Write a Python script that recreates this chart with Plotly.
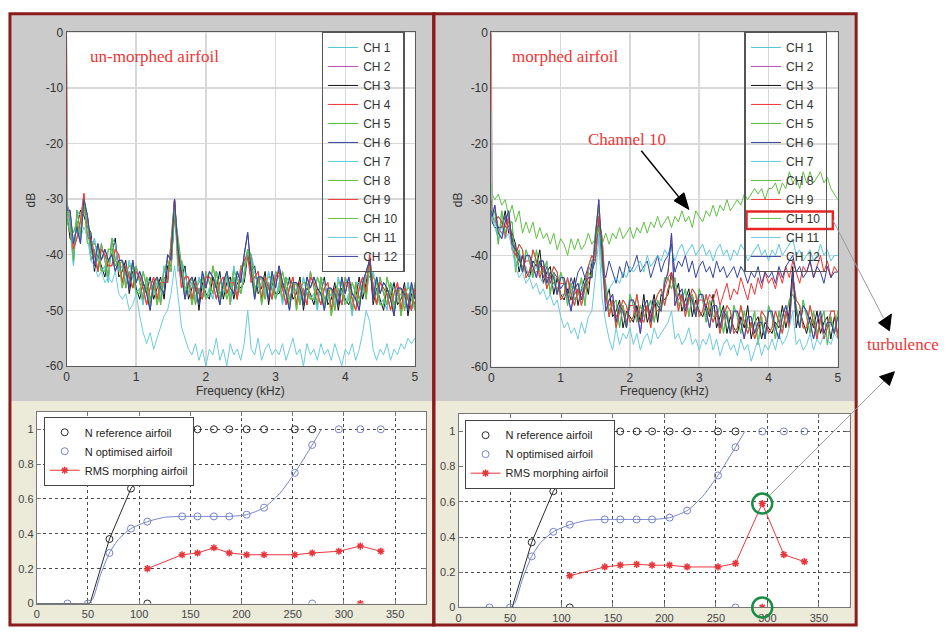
import plotly.graph_objects as go

W, H = 949, 634

# ---------------- data ----------------
FREQ_KHZ = [0.0, 0.01] + [round(0.05 * k, 2) for k in range(1, 101)]
CHANNELS = ["CH 1", "CH 2", "CH 3", "CH 4", "CH 5", "CH 6",
            "CH 7", "CH 8", "CH 9", "CH 10", "CH 11", "CH 12"]
CH_COLORS = ["#4fc3d6", "#b54db5", "#111111", "#f03030", "#56b83a", "#34459c",
             "#5cc9da", "#5bbd3c", "#f23a3a", "#62be45", "#6ccbd9", "#3848a0"]

# un-morphed airfoil spectra (dB)
UNM_A = [-31, -32,
         -34, -41, -32, -36, -31, -33, -41, -39, -43, -38,
         -41, -44, -37, -41, -42, -41, -46, -43, -46, -42,
         -45, -48, -44, -48, -46, -44, -49, -44, -45, -38,
         -30, -42, -41, -46, -46, -44, -49, -46, -48, -43,
         -45, -47, -43, -47, -46, -43, -49, -44, -48, -42,
         -42, -39, -40, -46, -45, -44, -48, -45, -48, -43,
         -44, -48, -44, -48, -46, -45, -49, -46, -49, -43,
         -46, -49, -44, -48, -47, -46, -50, -46, -49, -44,
         -46, -50, -45, -48, -46, -43, -44, -45, -49, -44,
         -47, -49, -45, -49, -47, -46, -50, -47, -50, -45]
UNM_B = [-30, -33,
         -37, -38, -35, -32, -33, -35, -36, -43, -40, -42,
         -44, -41, -40, -37, -44, -43, -41, -47, -43, -46,
         -48, -45, -47, -44, -48, -46, -44, -48, -42, -42,
         -33, -39, -44, -42, -48, -46, -44, -50, -45, -47,
         -48, -44, -46, -43, -48, -45, -44, -48, -45, -46,
         -45, -40, -43, -42, -47, -46, -43, -49, -45, -47,
         -47, -45, -47, -44, -48, -47, -44, -50, -46, -47,
         -49, -46, -47, -44, -49, -48, -45, -50, -46, -48,
         -49, -47, -48, -44, -48, -45, -41, -49, -46, -48,
         -50, -46, -48, -45, -49, -48, -45, -51, -47, -49]
UNM_C = [0, -31,
         -33, -39, -37, -34, -29, -37, -37, -40, -43, -39,
         -40, -42, -42, -39, -40, -45, -42, -44, -46, -43,
         -44, -46, -49, -46, -44, -48, -45, -45, -45, -39,
         -30, -40, -46, -44, -44, -48, -45, -47, -48, -44,
         -44, -45, -48, -45, -44, -47, -45, -45, -48, -43,
         -41, -40, -45, -44, -43, -48, -44, -46, -48, -44,
         -43, -46, -49, -46, -44, -49, -45, -47, -49, -44,
         -45, -47, -49, -46, -45, -50, -46, -47, -49, -45,
         -45, -48, -50, -46, -44, -47, -40, -46, -49, -45,
         -46, -47, -50, -47, -45, -50, -46, -48, -50, -46]
UNM_D = [-31, -34,
         -36, -36, -34, -37, -30, -38, -38, -38, -39, -43,
         -43, -39, -39, -42, -41, -46, -43, -42, -42, -47,
         -47, -43, -46, -49, -45, -49, -46, -43, -41, -43,
         -32, -37, -43, -47, -45, -49, -46, -45, -44, -48,
         -47, -42, -45, -48, -45, -48, -46, -43, -44, -47,
         -44, -39, -42, -47, -44, -49, -45, -44, -44, -48,
         -46, -43, -46, -49, -45, -50, -46, -45, -45, -48,
         -48, -44, -46, -49, -46, -51, -47, -45, -45, -49,
         -48, -45, -47, -49, -45, -48, -42, -44, -45, -49,
         -49, -44, -47, -50, -46, -51, -47, -46, -46, -50]
UNM_E = [-32, -33,
         -35, -42, -32, -33, -32, -34, -40, -37, -41, -43,
         -42, -45, -37, -38, -43, -42, -45, -41, -44, -47,
         -46, -49, -44, -45, -47, -45, -48, -42, -43, -43,
         -31, -43, -41, -43, -47, -45, -48, -44, -46, -48,
         -46, -48, -43, -44, -47, -44, -48, -42, -46, -47,
         -43, -40, -40, -43, -46, -45, -47, -43, -46, -48,
         -45, -49, -44, -45, -47, -46, -48, -44, -47, -48,
         -47, -50, -44, -45, -48, -47, -49, -44, -47, -49,
         -47, -51, -45, -45, -47, -44, -43, -43, -47, -49,
         -48, -50, -45, -46, -48, -47, -49, -45, -48, -50]
UNM_F = [-30, -32,
         -32, -38, -35, -38, -30, -33, -38, -42, -38, -41,
         -39, -41, -40, -43, -41, -41, -43, -46, -41, -45,
         -43, -45, -47, -50, -45, -44, -46, -47, -40, -41,
         -30, -39, -44, -48, -45, -44, -46, -49, -43, -46,
         -43, -44, -46, -49, -45, -43, -46, -47, -43, -45,
         -40, -36, -43, -48, -44, -44, -45, -48, -43, -46,
         -42, -45, -47, -50, -45, -45, -46, -49, -44, -46,
         -44, -46, -47, -50, -46, -46, -47, -49, -44, -47,
         -44, -47, -48, -50, -45, -43, -41, -48, -44, -47,
         -45, -46, -48, -51, -46, -46, -47, -50, -45, -48]
UNM_LOW = [-14, -31,
           -33, -38, -35, -37, -35, -37, -41, -42, -44, -43,
           -45, -44, -45, -43, -47, -48, -47, -50, -49, -47,
           -51, -54, -56, -54, -57, -55, -53, -51, -50, -47,
           -42, -47, -53, -55, -57, -58, -56, -59, -57, -60,
           -57, -58, -55, -59, -57, -60, -56, -58, -57, -59,
           -56, -50, -57, -58, -55, -59, -57, -56, -58, -57,
           -58, -56, -59, -57, -55, -58, -57, -60, -56, -58,
           -57, -59, -56, -58, -57, -59, -56, -58, -60, -57,
           -58, -56, -59, -57, -54, -50, -52, -57, -59, -57,
           -58, -56, -59, -57, -58, -56, -57, -55, -56, -55]

# morphed airfoil spectra (dB)
MOR_A = [-31, -33,
         -32, -38, -32, -36, -34, -34, -43, -39, -43, -39,
         -41, -44, -39, -43, -43, -41, -47, -43, -47, -43,
         -45, -49, -45, -48, -47, -44, -49, -43, -44, -36,
         -31, -42, -45, -50, -49, -48, -53, -49, -53, -47,
         -49, -52, -49, -51, -50, -48, -52, -48, -50, -44,
         -44, -46, -44, -49, -48, -46, -51, -47, -51, -46,
         -48, -52, -48, -51, -51, -49, -54, -50, -54, -49,
         -51, -54, -50, -53, -53, -50, -56, -51, -55, -49,
         -51, -55, -50, -53, -51, -48, -47, -49, -53, -48,
         -51, -54, -50, -54, -52, -50, -56, -51, -54, -50]
MOR_B = [-30, -34,
         -35, -35, -35, -32, -36, -36, -38, -43, -40, -43,
         -44, -41, -42, -39, -45, -43, -42, -47, -44, -47,
         -48, -46, -48, -44, -49, -46, -44, -47, -41, -40,
         -34, -39, -48, -46, -51, -50, -48, -53, -50, -51,
         -52, -49, -52, -47, -52, -50, -47, -52, -47, -48,
         -47, -43, -47, -45, -50, -48, -46, -51, -48, -50,
         -51, -49, -51, -47, -53, -51, -49, -54, -51, -53,
         -54, -51, -53, -49, -55, -52, -51, -55, -52, -53,
         -54, -52, -53, -49, -53, -50, -42, -53, -50, -52,
         -54, -51, -53, -50, -54, -52, -51, -55, -51, -54]
MOR_C = [-32, -33,
         -31, -36, -37, -34, -32, -38, -39, -40, -43, -40,
         -40, -42, -44, -41, -41, -45, -43, -44, -47, -44,
         -44, -47, -50, -46, -45, -48, -45, -44, -44, -37,
         -30, -40, -50, -48, -47, -52, -49, -50, -53, -48,
         -48, -50, -54, -49, -48, -52, -48, -49, -50, -45,
         -43, -36, -49, -47, -46, -50, -47, -48, -51, -47,
         -47, -50, -53, -49, -49, -53, -50, -51, -54, -50,
         -50, -52, -55, -51, -51, -54, -52, -52, -55, -50,
         -50, -53, -55, -51, -49, -52, -43, -50, -53, -49,
         -50, -52, -55, -52, -50, -54, -52, -52, -54, -51]
MOR_D = [-31, -32,
         -34, -33, -34, -37, -33, -39, -40, -38, -39, -44,
         -43, -39, -41, -44, -42, -46, -44, -42, -43, -48,
         -47, -44, -47, -49, -46, -49, -46, -42, -40, -41,
         -33, -37, -47, -51, -48, -53, -50, -48, -49, -52,
         -51, -47, -51, -52, -49, -53, -49, -47, -46, -49,
         -46, -44, -46, -50, -47, -51, -48, -46, -47, -51,
         -50, -47, -50, -52, -50, -54, -51, -49, -50, -54,
         -53, -49, -52, -54, -52, -55, -53, -50, -51, -54,
         -53, -50, -52, -54, -50, -53, -44, -48, -49, -53,
         -53, -49, -52, -55, -51, -55, -53, -50, -50, -55]
MOR_CH4 = [0, -32,
           -32, -35, -36, -35, -33, -37, -40, -41, -42, -41,
           -41, -43, -43, -42, -42, -44, -44, -45, -46, -45,
           -45, -48, -48, -47, -46, -47, -46, -45, -43, -38,
           -31, -41, -48, -49, -48, -51, -50, -49, -52, -49,
           -49, -51, -52, -50, -49, -51, -49, -50, -49, -46,
           -44, -43, -47, -48, -47, -49, -48, -47, -50, -48,
           -48, -49, -47, -48, -46, -49, -47, -45, -48, -46,
           -47, -44, -46, -48, -45, -47, -44, -46, -43, -45,
           -44, -46, -43, -45, -42, -44, -41, -43, -45, -42,
           -43, -41, -44, -42, -40, -43, -41, -44, -42, -43]
MOR_CH6 = [-31, -33,
           -34, -35, -35, -33, -35, -37, -39, -41, -40, -43,
           -43, -41, -42, -41, -44, -42, -45, -43, -44, -46,
           -45, -47, -44, -46, -43, -42, -44, -42, -43, -41,
           -34, -42, -44, -41, -43, -45, -42, -44, -41, -43,
           -42, -40, -43, -42, -41, -44, -42, -40, -43, -41,
           -40, -38, -43, -41, -42, -40, -43, -41, -44, -42,
           -41, -43, -42, -44, -41, -43, -42, -44, -43, -42,
           -44, -42, -43, -45, -43, -44, -42, -45, -43, -44,
           -43, -45, -42, -44, -42, -41, -40, -43, -42, -44,
           -43, -41, -44, -42, -43, -45, -42, -44, -43, -43]
MOR_CH7 = [-31, -33,
           -35, -37, -36, -36, -35, -38, -41, -42, -43, -42,
           -44, -43, -42, -44, -45, -44, -46, -45, -46, -47,
           -47, -48, -46, -48, -47, -46, -45, -43, -41, -40,
           -36, -43, -47, -46, -45, -44, -45, -43, -44, -42,
           -43, -42, -41, -43, -40, -42, -41, -40, -41, -39,
           -40, -39, -41, -39, -38, -40, -39, -38, -40, -39,
           -38, -40, -39, -41, -39, -38, -40, -39, -41, -39,
           -40, -38, -39, -41, -40, -39, -38, -40, -39, -41,
           -39, -40, -38, -40, -39, -38, -37, -40, -39, -41,
           -40, -39, -41, -40, -38, -40, -39, -41, -40, -40]
MOR_CH10 = [-27, -29,
            -30, -29, -31, -30, -33, -31, -34, -32, -36, -34,
            -36, -34, -37, -35, -37, -36, -38, -36, -39, -37,
            -38, -40, -37, -39, -37, -39, -38, -36, -38, -37,
            -35, -38, -36, -38, -36, -37, -35, -37, -36, -35,
            -37, -35, -36, -34, -36, -34, -35, -33, -35, -34,
            -33, -35, -33, -34, -32, -34, -33, -35, -32, -33,
            -34, -32, -33, -31, -33, -31, -32, -30, -32, -31,
            -30, -31, -29, -30, -29, -28, -29, -28, -30, -28,
            -28, -27, -29, -27, -28, -25, -27, -26, -28, -25,
            -27, -25, -27, -26, -25, -27, -26, -28, -29, -30]
MOR_CH11 = [-14, -32,
            -34, -36, -35, -37, -36, -39, -42, -44, -43, -45,
            -44, -46, -45, -47, -46, -48, -47, -49, -48, -51,
            -53, -52, -54, -53, -55, -52, -54, -51, -50, -44,
            -37, -48, -52, -55, -57, -53, -56, -54, -55, -53,
            -56, -54, -57, -55, -54, -56, -53, -55, -54, -53,
            -52, -50, -55, -54, -56, -55, -53, -56, -55, -57,
            -55, -56, -54, -57, -55, -58, -56, -55, -57, -56,
            -58, -55, -57, -56, -59, -57, -55, -58, -56, -57,
            -55, -57, -54, -56, -55, -53, -50, -56, -55, -57,
            -56, -54, -57, -55, -56, -54, -55, -56, -54, -55]

UNM_CHANNEL_DATA = [UNM_E, UNM_A, UNM_B, UNM_C, UNM_D, UNM_F,
                    UNM_E, UNM_A, UNM_C, UNM_D, UNM_LOW, UNM_F]
MOR_CHANNEL_DATA = [MOR_A, MOR_C, MOR_B, MOR_CH4, MOR_D, MOR_CH6,
                    MOR_CH7, MOR_A, MOR_D, MOR_CH10, MOR_CH11, MOR_C]

DB_TICKS = [0, -10, -20, -30, -40, -50, -60]
DB_TICK_TEXT = ["0", "-10", "-20", "-30", "-40", "-50", "-60"]
KHZ_TICKS = [0, 1, 2, 3, 4, 5]

# lower panels
REF_LINE_X = [0, 52, 71, 92, 108, 125]
REF_LINE_Y = [0, 0, 0.37, 0.66, 0.80, 1.0]
REF_X = [71, 92, 108, 142, 157, 173, 188, 205, 222, 252, 269]
REF_Y = [0.37, 0.66, 0.0, 1, 1, 1, 1, 1, 1, 1, 1]
OPT_LINE_X = [0, 30, 50, 55, 62, 71, 80, 92, 108, 125, 142, 157, 173, 188,
              205, 222, 237, 252, 269, 278]
OPT_LINE_Y = [0, 0, 0, 0.03, 0.16, 0.29, 0.37, 0.43, 0.47, 0.495, 0.50, 0.50,
              0.50, 0.50, 0.51, 0.55, 0.63, 0.75, 0.91, 1.0]
OPT_X = [30, 50, 71, 92, 108, 142, 157, 173, 188, 205, 222, 252, 269, 269,
         295, 316, 336]
OPT_Y = [0, 0, 0.29, 0.43, 0.47, 0.50, 0.50, 0.50, 0.50, 0.51, 0.55, 0.75,
         0.91, 0.0, 1, 1, 1]
RMS_X = [108, 142, 157, 173, 188, 205, 222, 252, 269, 295, 316, 336]
RMS_UNMORPHED = [0.20, 0.28, 0.29, 0.32, 0.29, 0.28, 0.28, 0.28, 0.29, 0.30,
                 0.33, 0.30]
RMS_MORPHED = [0.18, 0.23, 0.24, 0.245, 0.24, 0.24, 0.23, 0.23, 0.25, 0.59,
               0.30, 0.26]
RMS_ZERO_UNMORPHED_X = [316]
RMS_ZERO_MORPHED_X = [295]
RMS_ZERO_Y = [0.0]
TURB_X = 295
TURB_Y = [0.59, 0.0]
N_TICKS = [0, 50, 100, 150, 200, 250, 300, 350]
N_YTICKS = [0, 0.2, 0.4, 0.6, 0.8, 1.0]
N_YTICK_TEXT = ["0", "0.2", "0.4", "0.6", "0.8", "1"]


# ---------------- helpers ----------------
def pxx(x):
    return x / W


def pxy(y):
    return 1 - y / H


# plot rectangles in pixels (left, top, right, bottom)
TL = (64, 26, 415, 367)
TR = (492, 26, 841, 368)
BL = (34, 414, 426, 610)
BR = (459, 416, 853, 614)
BOT_XRANGE = [0, 380]
BOT_YRANGE = [0, 1.1]

fig = go.Figure()

for i, name in enumerate(CHANNELS):
    fig.add_trace(go.Scatter(x=FREQ_KHZ, y=UNM_CHANNEL_DATA[i], mode="lines", name=name,
                             line=dict(color=CH_COLORS[i], width=1),
                             xaxis="x", yaxis="y", legend="legend", hoverinfo="skip"))
for i, name in enumerate(CHANNELS):
    fig.add_trace(go.Scatter(x=FREQ_KHZ, y=MOR_CHANNEL_DATA[i], mode="lines", name=name,
                             line=dict(color=CH_COLORS[i], width=1),
                             xaxis="x2", yaxis="y2", legend="legend2", hoverinfo="skip"))

BLACK = "#2a2a2a"
BLUE = "#7883c8"
RED = "#e8373c"

for xa, ya, lg, rms, zx in (("x3", "y3", "legend3", RMS_UNMORPHED, RMS_ZERO_UNMORPHED_X),
                            ("x4", "y4", "legend4", RMS_MORPHED, RMS_ZERO_MORPHED_X)):
    fig.add_trace(go.Scatter(x=OPT_LINE_X, y=OPT_LINE_Y, mode="lines", showlegend=False,
                             line=dict(color=BLUE, width=1, shape="spline", smoothing=0.6),
                             xaxis=xa, yaxis=ya, legend=lg, hoverinfo="skip"))
    fig.add_trace(go.Scatter(x=REF_LINE_X, y=REF_LINE_Y, mode="lines", showlegend=False,
                             line=dict(color=BLACK, width=1),
                             xaxis=xa, yaxis=ya, legend=lg, hoverinfo="skip"))
    fig.add_trace(go.Scatter(x=REF_X, y=REF_Y, mode="markers", name="N reference airfoil",
                             marker=dict(symbol="circle-open", size=7, color=BLACK,
                                         line=dict(width=1)),
                             xaxis=xa, yaxis=ya, legend=lg, hoverinfo="skip"))
    fig.add_trace(go.Scatter(x=OPT_X, y=OPT_Y, mode="markers", name="N optimised airfoil",
                             marker=dict(symbol="circle-open", size=7, color=BLUE,
                                         line=dict(width=1)),
                             xaxis=xa, yaxis=ya, legend=lg, hoverinfo="skip"))
    fig.add_trace(go.Scatter(x=RMS_X, y=rms, mode="lines+markers", name="RMS morphing airfoil",
                             line=dict(color=RED, width=1),
                             marker=dict(symbol="asterisk-open", size=6, color=RED,
                                         line=dict(width=1.5, color=RED)),
                             xaxis=xa, yaxis=ya, legend=lg, hoverinfo="skip"))
    fig.add_trace(go.Scatter(x=zx, y=RMS_ZERO_Y, mode="markers", showlegend=False,
                             marker=dict(symbol="asterisk-open", size=6, color=RED,
                                         line=dict(width=1.5, color=RED)),
                             xaxis=xa, yaxis=ya, legend=lg, hoverinfo="skip"))

TICKFONT = dict(family="Arial, Liberation Sans", size=12, color="#333")
SMALLFONT = dict(family="Arial, Liberation Sans", size=11, color="#444")


def top_x(rect):
    return dict(domain=[pxx(rect[0]), pxx(rect[2])], range=[0, 5], tickvals=KHZ_TICKS,
                showgrid=True, gridcolor="#d8d8d8", gridwidth=1.5, zeroline=False,
                showline=True, linecolor="#5a5a5a", linewidth=1, mirror=True,
                ticks="", tickfont=TICKFONT, fixedrange=True)


def top_y(rect):
    return dict(domain=[pxy(rect[3]), pxy(rect[1])], range=[-60, 0], tickvals=DB_TICKS,
                ticktext=DB_TICK_TEXT, showgrid=True, gridcolor="#d8d8d8", gridwidth=1.5,
                zeroline=False, showline=True, linecolor="#5a5a5a", linewidth=1,
                mirror=True, ticks="", tickfont=TICKFONT, fixedrange=True)


def bot_x(rect):
    return dict(domain=[pxx(rect[0]), pxx(rect[2])], range=BOT_XRANGE, tickvals=N_TICKS,
                showgrid=True, gridcolor="#4a4a4a", griddash="dot", gridwidth=1,
                zeroline=False, showline=True, linecolor="#777", linewidth=1,
                mirror="ticks", ticks="inside", ticklen=4, tickcolor="#777",
                tickfont=SMALLFONT, fixedrange=True)


def bot_y(rect):
    return dict(domain=[pxy(rect[3]), pxy(rect[1])], range=BOT_YRANGE, tickvals=N_YTICKS,
                ticktext=N_YTICK_TEXT, showgrid=True, gridcolor="#4a4a4a", griddash="dot",
                gridwidth=1, zeroline=False, showline=True, linecolor="#777", linewidth=1,
                mirror="ticks", ticks="inside", ticklen=4, tickcolor="#777",
                tickfont=SMALLFONT, fixedrange=True)


# legend geometry (observed: first entry text centre ~22 px below legend anchor, step 19 px)
LEG_TOP_Y = 25
LEG_BW = 1.5
CH10_CENTER = LEG_TOP_Y + 22 + 9 * 19

shapes = []
# panel backgrounds
shapes.append(dict(type="rect", xref="paper", yref="paper", x0=pxx(7), x1=pxx(860),
                   y0=pxy(403), y1=pxy(7), fillcolor="#cbcbcb", line=dict(width=0),
                   layer="below"))
shapes.append(dict(type="rect", xref="paper", yref="paper", x0=pxx(7), x1=pxx(860),
                   y0=pxy(632), y1=pxy(403), fillcolor="#ecead9", line=dict(width=0),
                   layer="below"))
for r in (TL, TR, BL, BR):
    shapes.append(dict(type="rect", xref="paper", yref="paper", x0=pxx(r[0]), x1=pxx(r[2]),
                       y0=pxy(r[3]), y1=pxy(r[1]), fillcolor="white", line=dict(width=0),
                       layer="below"))
# dark red frames
for x0, x1 in ((7, 434), (434, 859.5)):
    shapes.append(dict(type="rect", xref="paper", yref="paper", x0=pxx(x0), x1=pxx(x1),
                       y0=pxy(632), y1=pxy(7), line=dict(color="#8b1c1c", width=3),
                       layer="above"))

# red box around CH 10 legend entry
shapes.append(dict(type="rect", xref="paper", yref="paper", x0=pxx(749), x1=pxx(836),
                   y0=pxy(CH10_CENTER + 9), y1=pxy(CH10_CENTER - 9),
                   line=dict(color="#e82525", width=2.5), layer="above"))


def line_px(x0, y0, x1, y1, color, width):
    return dict(type="line", xref="paper", yref="paper", x0=pxx(x0), y0=pxy(y0),
                x1=pxx(x1), y1=pxy(y1), line=dict(color=color, width=width), layer="above")


def tri_px(pts):
    path = "M " + " L ".join(f"{pxx(a):.5f},{pxy(b):.5f}" for a, b in pts) + " Z"
    return dict(type="path", xref="paper", yref="paper", path=path, fillcolor="black",
                line=dict(color="black", width=1), layer="above")


# Channel 10 arrow
shapes.append(line_px(643, 147, 683, 197, "black", 1.5))
shapes.append(tri_px([(691, 207), (676, 198), (686, 190)]))


def br_px(xv, yv):
    px_ = BR[0] + (xv - BOT_XRANGE[0]) / (BOT_XRANGE[1] - BOT_XRANGE[0]) * (BR[2] - BR[0])
    py_ = BR[3] - (yv - BOT_YRANGE[0]) / (BOT_YRANGE[1] - BOT_YRANGE[0]) * (BR[3] - BR[1])
    return px_, py_


# turbulence arrows
cx, cy_top = br_px(TURB_X, TURB_Y[0])
_, cy_bot = br_px(TURB_X, TURB_Y[1])
shapes.append(line_px(836, CH10_CENTER, 887, 318, "#9a9a9a", 1))
shapes.append(tri_px([(882, 323), (895, 314), (893, 331)]))
shapes.append(line_px(cx + 6, cy_top - 7, 889, 381, "#9a9a9a", 1))
shapes.append(tri_px([(883, 378), (898, 373), (893, 387)]))

# green circles around the turbulence points
for cyv in (cy_top, cy_bot):
    shapes.append(dict(type="circle", xref="paper", yref="paper", xsizemode="pixel",
                       ysizemode="pixel", xanchor=pxx(cx), yanchor=pxy(cyv),
                       x0=-10, x1=10, y0=-10, y1=10,
                       line=dict(color="#1b8c45", width=2.5), layer="above"))

SERIF = "Liberation Serif, Times New Roman, serif"
annotations = [
    dict(text="un-morphed airfoil", x=pxx(86), y=pxy(51), xanchor="left", yanchor="middle",
         font=dict(family=SERIF, size=17, color="#ee3535")),
    dict(text="morphed airfoil", x=pxx(511), y=pxy(51), xanchor="left", yanchor="middle",
         font=dict(family=SERIF, size=17, color="#ee3535")),
    dict(text="Channel 10", x=pxx(629), y=pxy(136), xanchor="center", yanchor="middle",
         font=dict(family=SERIF, size=17, color="#ee3535")),
    dict(text="turbulence", x=pxx(945), y=pxy(345), xanchor="right", yanchor="middle",
         font=dict(family=SERIF, size=17, color="#ee3535")),
    dict(text="dB", x=pxx(28), y=pxy(197), textangle=-90, xanchor="center",
         yanchor="middle", font=TICKFONT),
    dict(text="dB", x=pxx(458), y=pxy(197), textangle=-90, xanchor="center",
         yanchor="middle", font=TICKFONT),
    dict(text="Frequency (kHz)", x=pxx(239), y=pxy(393), xanchor="center",
         yanchor="middle", font=TICKFONT),
    dict(text="Frequency (kHz)", x=pxx(666), y=pxy(393), xanchor="center",
         yanchor="middle", font=TICKFONT),
]
for a in annotations:
    a.update(xref="paper", yref="paper", showarrow=False)

LEG_TOP = dict(bgcolor="rgba(0,0,0,0)", bordercolor="#555", borderwidth=LEG_BW,
               font=dict(family="Arial, Liberation Sans", size=12, color="#333"),
               xanchor="left", yanchor="top", tracegroupgap=0, itemwidth=30)
LEG_BOT = dict(bgcolor="white", bordercolor="#444", borderwidth=1,
               font=dict(family="Arial, Liberation Sans", size=11, color="#222"),
               xanchor="left", yanchor="top", tracegroupgap=0, itemwidth=30)

fig.update_layout(
    width=W, height=H, autosize=False,
    margin=dict(l=0, r=0, t=0, b=0, pad=0),
    paper_bgcolor="white", plot_bgcolor="white",
    xaxis=dict(top_x(TL), anchor="y"), yaxis=dict(top_y(TL), anchor="x"),
    xaxis2=dict(top_x(TR), anchor="y2"), yaxis2=dict(top_y(TR), anchor="x2"),
    xaxis3=dict(bot_x(BL), anchor="y3"), yaxis3=dict(bot_y(BL), anchor="x3"),
    xaxis4=dict(bot_x(BR), anchor="y4"), yaxis4=dict(bot_y(BR), anchor="x4"),
    legend=dict(LEG_TOP, x=pxx(321), y=pxy(LEG_TOP_Y)),
    legend2=dict(LEG_TOP, x=pxx(747), y=pxy(LEG_TOP_Y)),
    legend3=dict(LEG_BOT, x=pxx(41), y=pxy(419)),
    legend4=dict(LEG_BOT, x=pxx(465), y=pxy(422)),
    shapes=shapes,
    annotations=annotations,
    showlegend=True,
    hovermode=False,
)

fig.write_html(
    "out.html",
    config={"displayModeBar": False, "staticPlot": True},
    post_script="document.body.style.margin='0px';document.body.style.padding='0px';",
)
